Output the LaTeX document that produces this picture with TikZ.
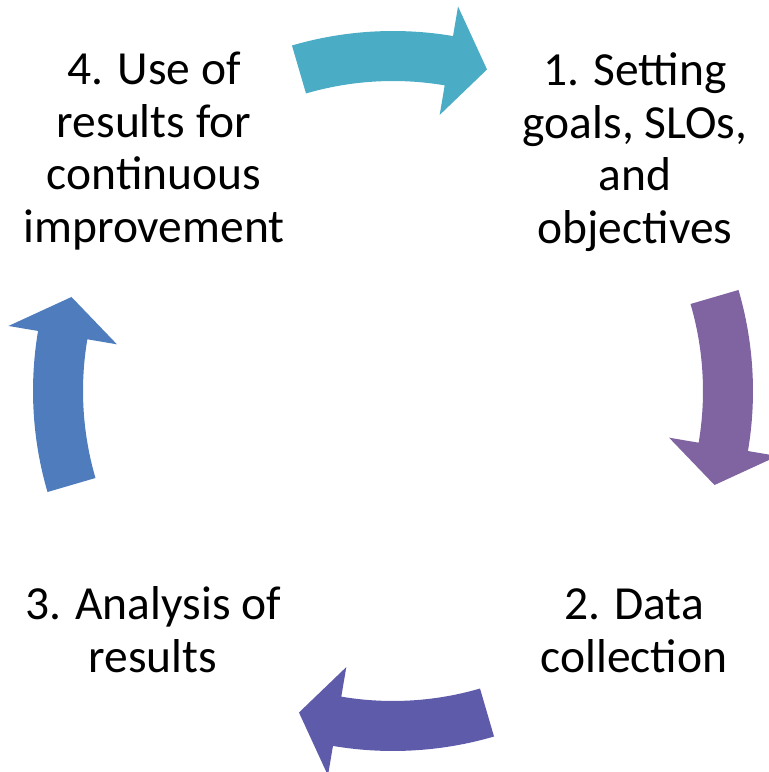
\documentclass[tikz,border=0pt]{standalone}
\usepackage{fontspec}
\setmainfont{Carlito}
\usetikzlibrary{calc}
\definecolor{goalcolor}{HTML}{4BACC6}
\definecolor{datacolor}{HTML}{8064A2}
\definecolor{analysiscolor}{HTML}{5F5BAB}
\definecolor{usecolor}{HTML}{4F7CBD}
\tikzstyle{phase}=[align=center,inner sep=0pt,font=\fontsize{47.5}{52.5}\selectfont]
\tikzstyle{cyclearrow}=[draw=none]

\begin{document}
\begin{tikzpicture}[x=1pt,y=1pt]
    \useasboundingbox (0,0) rectangle (769,772);
    % Centre of the cycle
    \coordinate (c) at (393,381);
    % First we draw the four curved arrows
    \foreach \a/\col in {90/goalcolor, 0/datacolor, -90/analysiscolor, 180/usecolor}
        \fill[cyclearrow, \col] ($(c)+(\a+16.3:360)$)
            arc[start angle=\a+16.3, end angle=\a-9.6, radius=360]
            -- ($(c)+(\a-9.6:390)$) -- ($(c)+(\a-16.3:335)$)
            -- ($(c)+(\a-9.6:280)$) -- ($(c)+(\a-9.6:310)$)
            arc[start angle=\a-9.6, end angle=\a+16.3, radius=310] -- cycle;
    % Then the four steps
    \node[phase] (goals) at (635,620) {1. Setting\\goals, SLOs,\\and\\objectives};
    \node[phase] (data) at (634,141) {2. Data\\collection};
    \node[phase] (analysis) at (153,142.5) {3. Analysis of\\results};
    \node[phase] (use) at (154,621) {4. Use of\\results for\\continuous\\improvement};
\end{tikzpicture}
\end{document}
